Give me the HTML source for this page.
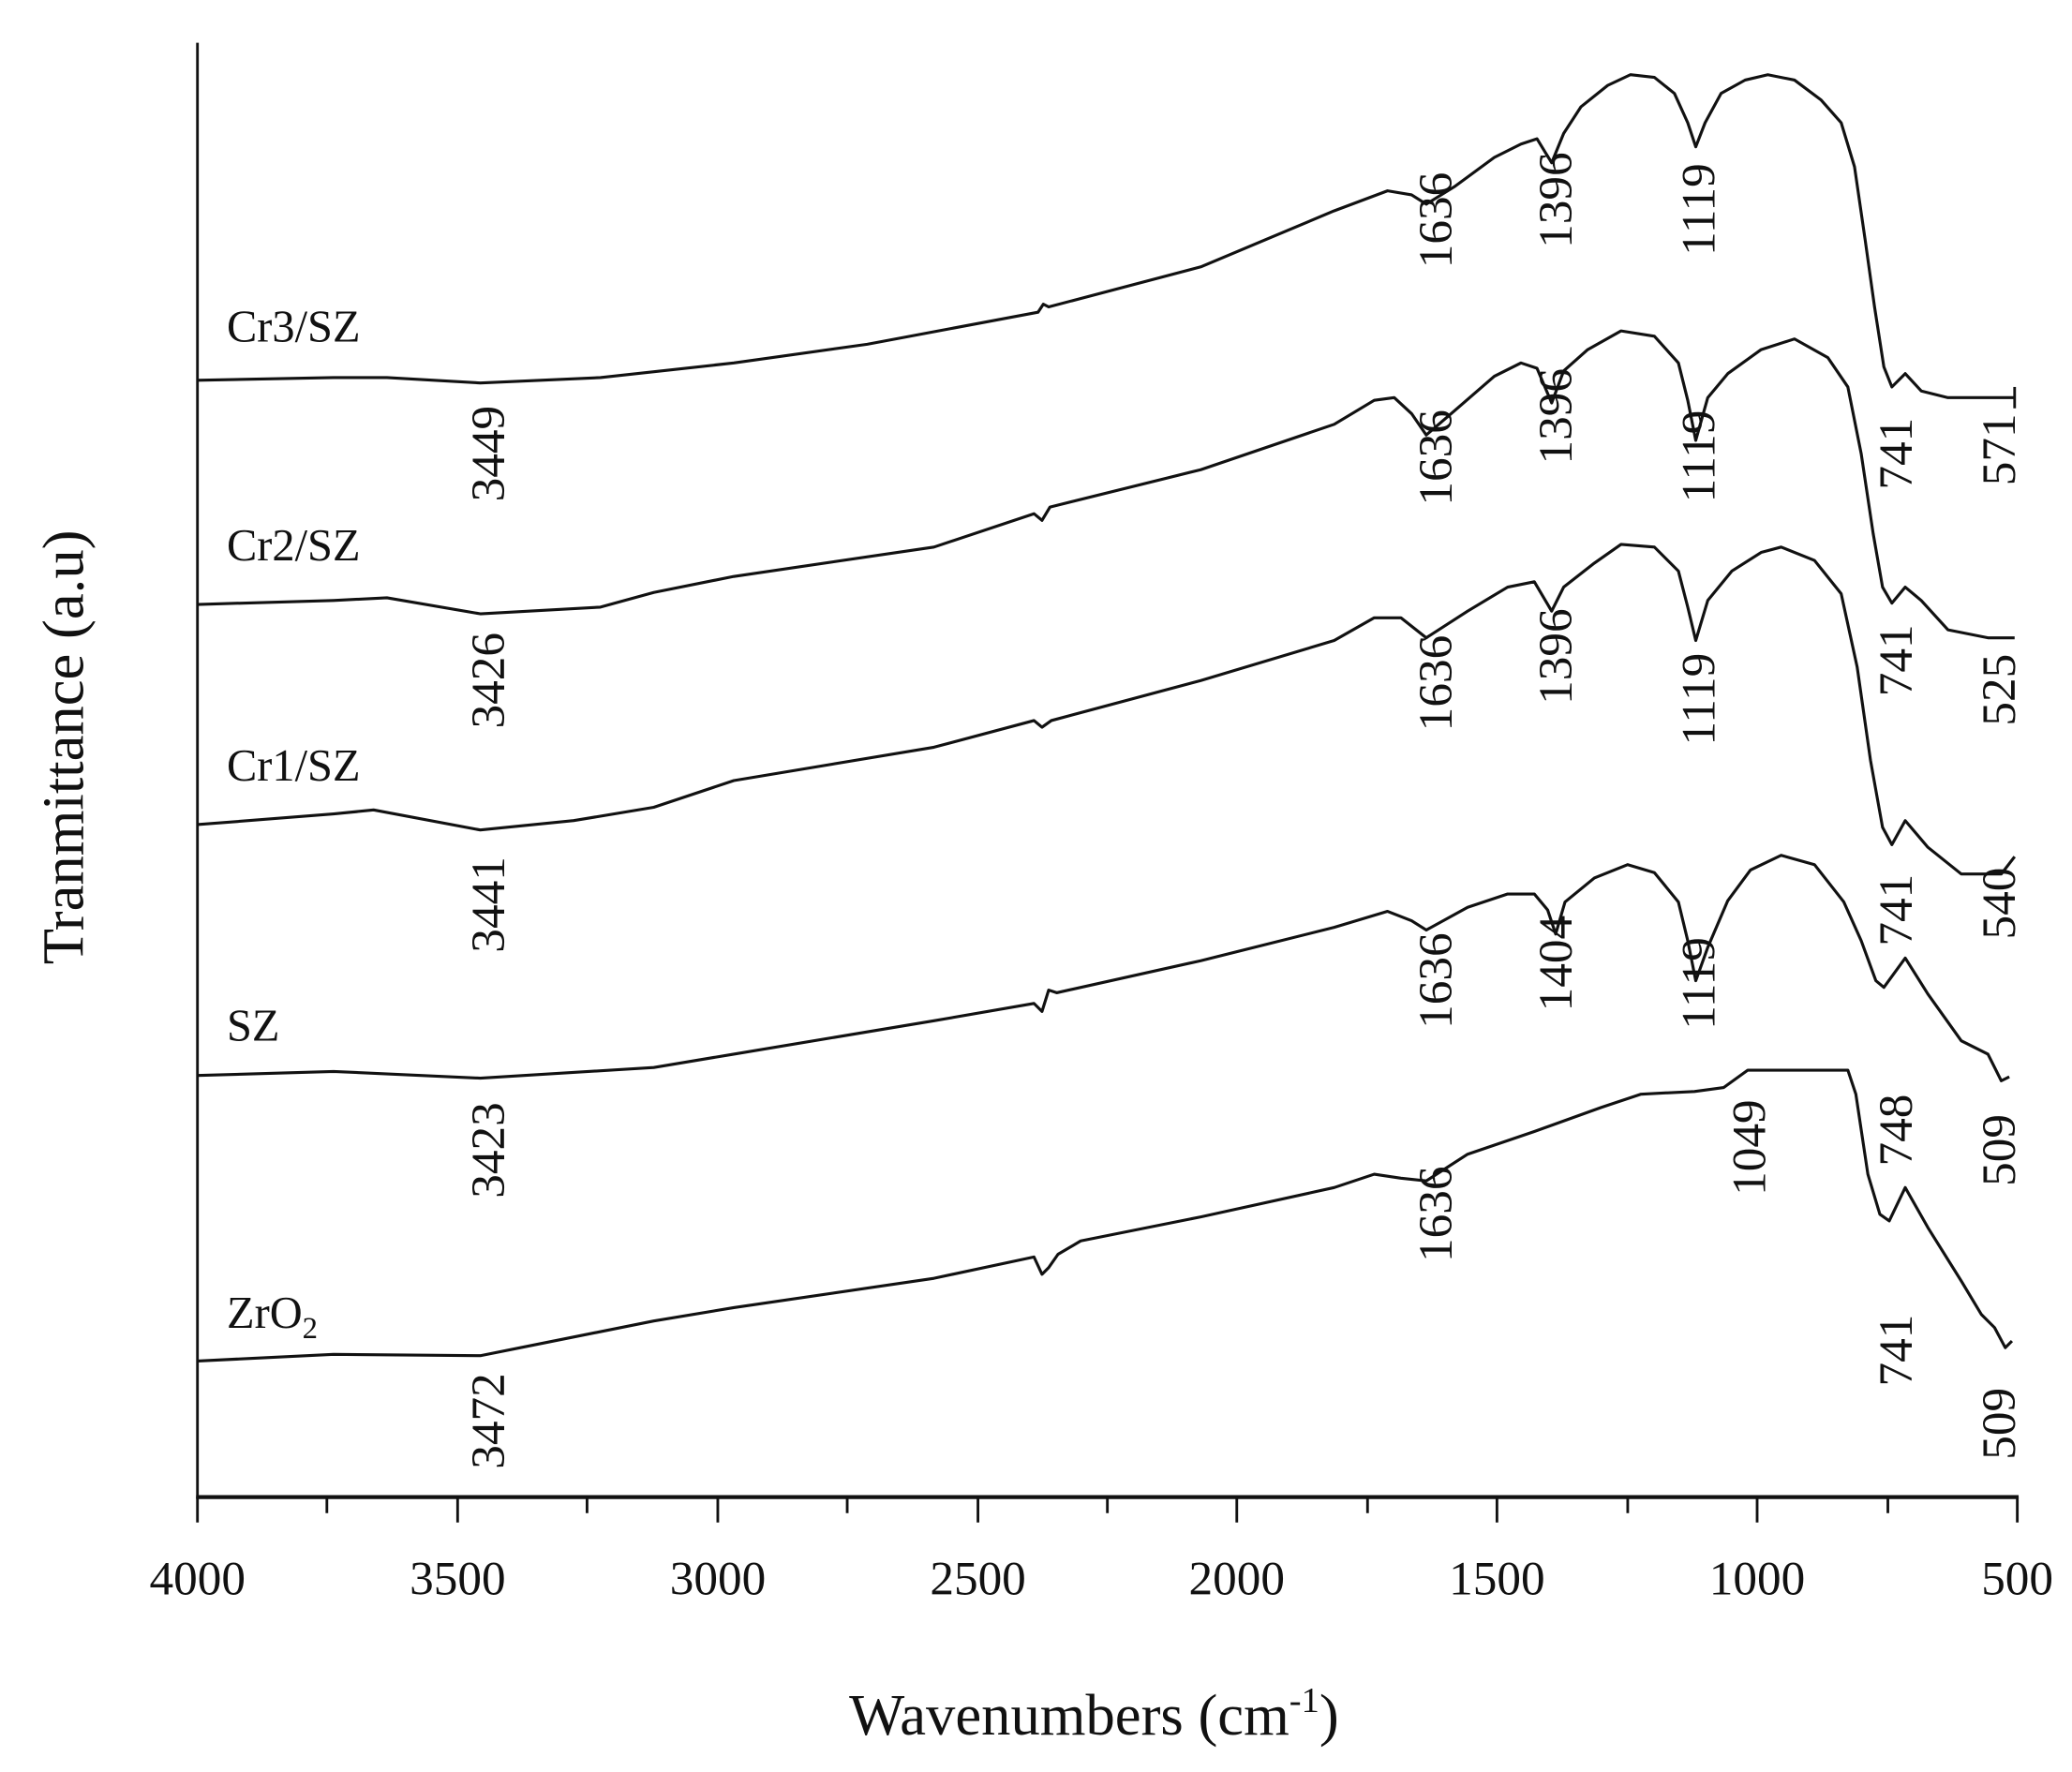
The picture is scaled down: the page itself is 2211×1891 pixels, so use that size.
<!DOCTYPE html>
<html><head><meta charset="utf-8"><style>
html,body{margin:0;padding:0;background:#fff;}
svg{display:block;}
text{font-family:"Liberation Serif",serif;fill:#111;}
.p{fill:none;stroke:#111;stroke-width:2.2;stroke-linejoin:round;}
.l{font-size:36px;}
</style></head><body>
<svg width="2211" height="1891" viewBox="0 0 1553 1328" preserveAspectRatio="none" xmlns="http://www.w3.org/2000/svg">
<line x1="148" y1="32" x2="148" y2="1123" stroke="#111" stroke-width="2"/>
<line x1="147" y1="1122" x2="1513" y2="1122" stroke="#111" stroke-width="3"/>
<g stroke="#111" stroke-width="2">
<line x1="148" y1="1122" x2="148" y2="1141"/><line x1="245" y1="1122" x2="245" y2="1134"/>
<line x1="343" y1="1122" x2="343" y2="1141"/><line x1="440" y1="1122" x2="440" y2="1134"/>
<line x1="538" y1="1122" x2="538" y2="1141"/><line x1="635" y1="1122" x2="635" y2="1134"/>
<line x1="733" y1="1122" x2="733" y2="1141"/><line x1="830" y1="1122" x2="830" y2="1134"/>
<line x1="927" y1="1122" x2="927" y2="1141"/><line x1="1025" y1="1122" x2="1025" y2="1134"/>
<line x1="1122" y1="1122" x2="1122" y2="1141"/><line x1="1220" y1="1122" x2="1220" y2="1134"/>
<line x1="1317" y1="1122" x2="1317" y2="1141"/><line x1="1415" y1="1122" x2="1415" y2="1134"/>
<line x1="1512" y1="1122" x2="1512" y2="1141"/>
</g>
<g font-size="36" text-anchor="middle">
<text x="148" y="1195">4000</text><text x="343" y="1195">3500</text><text x="538" y="1195">3000</text>
<text x="733" y="1195">2500</text><text x="927" y="1195">2000</text><text x="1122" y="1195">1500</text>
<text x="1317" y="1195">1000</text><text x="1512" y="1195">500</text>
</g>
<text x="820" y="1300" font-size="44" text-anchor="middle">Wavenumbers (cm<tspan font-size="27" dy="-17">-1</tspan><tspan dy="17">)</tspan></text>
<text transform="translate(62,560) rotate(-90)" font-size="44" text-anchor="middle">Tranmittance (a.u)</text>

<polyline class="p" points="148,285 250,283 290,283 360,287 450,283 550,272 650,258 778,234 782,228 786,230 900,200 1000,158 1040,143 1058,146 1069,153 1090,140 1120,118 1140,108 1152,104 1163,122 1172,100 1185,80 1205,64 1222,56 1240,58 1255,70 1265,92 1271,110 1278,92 1290,70 1308,60 1325,56 1345,60 1365,75 1380,92 1390,125 1398,180 1405,230 1412,275 1418,290 1428,280 1440,293 1460,298 1510,298"/>
<line x1="1510" y1="290" x2="1510" y2="306" stroke="#111" stroke-width="2"/>
<polyline class="p" points="148,453 250,450 290,448 360,460 450,455 490,444 550,432 700,410 775,385 781,390 787,380 900,352 1000,318 1030,300 1045,298 1058,310 1069,326 1090,308 1120,282 1140,272 1152,276 1163,302 1172,278 1190,262 1215,248 1240,252 1258,272 1265,300 1271,330 1280,298 1295,280 1320,262 1345,254 1370,268 1385,290 1395,340 1404,400 1411,440 1418,452 1428,440 1440,450 1460,472 1490,478 1510,478"/>
<polyline class="p" points="148,618 250,610 280,607 360,622 430,615 490,605 550,585 700,560 775,540 781,545 788,540 900,510 1000,480 1030,463 1050,463 1069,478 1100,458 1130,440 1150,436 1163,458 1172,440 1195,422 1215,408 1240,410 1258,428 1265,455 1271,480 1280,450 1298,428 1320,414 1335,410 1360,420 1380,445 1392,500 1402,570 1411,620 1418,633 1428,615 1445,635 1470,655 1500,655 1510,642"/>
<polyline class="p" points="148,806 250,803 360,808 490,800 550,790 700,765 775,752 781,758 786,742 792,744 900,720 1000,695 1040,683 1058,690 1069,697 1100,680 1130,670 1150,670 1160,682 1166,700 1173,676 1195,658 1220,648 1240,654 1258,676 1265,705 1271,735 1280,710 1295,675 1312,652 1335,641 1360,648 1382,676 1395,705 1406,735 1412,740 1428,718 1445,745 1470,780 1490,790 1500,810 1506,807"/>
<polyline class="p" points="148,1020 250,1015 360,1016 390,1010 490,990 550,980 700,958 775,942 781,955 786,950 793,940 810,930 900,912 1000,890 1030,880 1050,883 1069,885 1100,865 1150,848 1200,830 1230,820 1270,818 1292,815 1310,802 1385,802 1391,820 1400,880 1409,910 1416,915 1428,890 1445,920 1470,960 1485,985 1495,995 1503,1010 1508,1005"/>

<g font-size="34">
<text x="170" y="256">Cr3/SZ</text><text x="170" y="420">Cr2/SZ</text><text x="170" y="585">Cr1/SZ</text>
<text x="170" y="780">SZ</text><text x="170" y="995">ZrO<tspan font-size="23" dy="8">2</tspan></text>
</g>
<g class="l" text-anchor="middle">
<text transform="translate(378,340) rotate(-90)">3449</text>
<text transform="translate(378,510) rotate(-90)">3426</text>
<text transform="translate(378,678) rotate(-90)">3441</text>
<text transform="translate(378,862) rotate(-90)">3423</text>
<text transform="translate(378,1065) rotate(-90)">3472</text>
<text transform="translate(1088,165) rotate(-90)">1636</text>
<text transform="translate(1088,343) rotate(-90)">1636</text>
<text transform="translate(1088,512) rotate(-90)">1636</text>
<text transform="translate(1088,735) rotate(-90)">1636</text>
<text transform="translate(1088,910) rotate(-90)">1636</text>
<text transform="translate(1178,150) rotate(-90)">1396</text>
<text transform="translate(1178,312) rotate(-90)">1396</text>
<text transform="translate(1178,492) rotate(-90)">1396</text>
<text transform="translate(1178,722) rotate(-90)">1404</text>
<text transform="translate(1285,157) rotate(-90)">1119</text>
<text transform="translate(1285,342) rotate(-90)">1119</text>
<text transform="translate(1285,524) rotate(-90)">1119</text>
<text transform="translate(1285,737) rotate(-90)">1119</text>
<text transform="translate(1323,860) rotate(-90)">1049</text>
<text transform="translate(1433,340) rotate(-90)">741</text>
<text transform="translate(1433,495) rotate(-90)">741</text>
<text transform="translate(1433,682) rotate(-90)">741</text>
<text transform="translate(1433,847) rotate(-90)">748</text>
<text transform="translate(1433,1012) rotate(-90)">741</text>
<text transform="translate(1510,337) rotate(-90)">571</text>
<text transform="translate(1510,517) rotate(-90)">525</text>
<text transform="translate(1510,677) rotate(-90)">540</text>
<text transform="translate(1510,862) rotate(-90)">509</text>
<text transform="translate(1510,1067) rotate(-90)">509</text>
</g>
</svg>
</body></html>
